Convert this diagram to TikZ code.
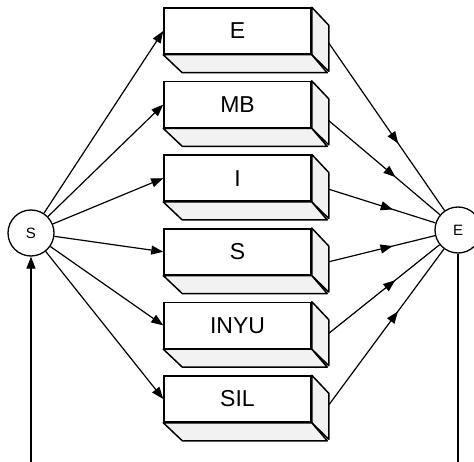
\documentclass[tikz,border=0pt]{standalone}
\usepackage{fontspec}
\setmainfont{Liberation Sans}
\usetikzlibrary{arrows.meta,decorations.markings,calc}
\tikzset{
  frontbox/.style={draw, line width=1.5pt, fill=white, minimum width=147pt, minimum height=46pt, inner sep=0pt, font=\fontsize{23}{27}\selectfont},
  face/.style={draw, line width=1.5pt, fill=gray!10, line join=round},
  circ/.style={draw, circle, line width=1.3pt, fill=white, minimum size=46pt, inner sep=0pt, font=\fontsize{15}{17}\selectfont},
  arr/.style={line width=1.2pt, -{Triangle[length=12pt,width=9pt]}},
  midarr/.style={line width=1.2pt, postaction={decorate}, decoration={markings, mark=at position 0.6 with {\arrow{Triangle[length=12pt,width=9pt]}}}},
  plain/.style={line width=1.2pt}
}
\begin{document}
\begin{tikzpicture}[x=1pt,y=-1pt]
\useasboundingbox (0,0) rectangle (474,462);
\clip (0,0) rectangle (474,462);
\fill[white] (0,0) rectangle (474,462);
% boxes
\foreach \i/\t in {1/E,2/MB,3/I,4/S,5/INYU,6/SIL}{
  \node[frontbox] (b\i) at (237.5, {31+73.6*(\i-1)}) {\t};
  \draw[face] (b\i.north east) -- ++(17,18) -- ++(0,46) -- (b\i.south east) -- cycle;
  \draw[face] (b\i.south west) -- ++(19,18) -- ++(145,0) -- (b\i.south east) -- cycle;
}
% circles
\node[circ] (S) at (31,233) {S};
\node[circ] (E) at (458,230) {E};
% connectors S -> boxes
\foreach \i in {1,...,6}{
  \draw[arr] (S) -- (b\i.west);
}
% boxes -> E
\coordinate (r1) at ($(b1.east)+(17,12)$);
\coordinate (r2) at ($(b2.east)+(17,16)$);
\coordinate (r3) at ($(b3.east)+(17,11)$);
\coordinate (r4) at ($(b4.east)+(17,10)$);
\coordinate (r5) at ($(b5.east)+(17,8)$);
\coordinate (r6) at ($(b6.east)+(17,6)$);
\foreach \i in {1,...,6}{
  \draw[midarr] (r\i) -- (E);
}
% vertical lines
\coordinate (sb) at (31,462);
\coordinate (eb) at (458,462);
\draw[arr] (sb) -- (S);
\draw[plain] (E) -- (eb);
\end{tikzpicture}
\end{document}
